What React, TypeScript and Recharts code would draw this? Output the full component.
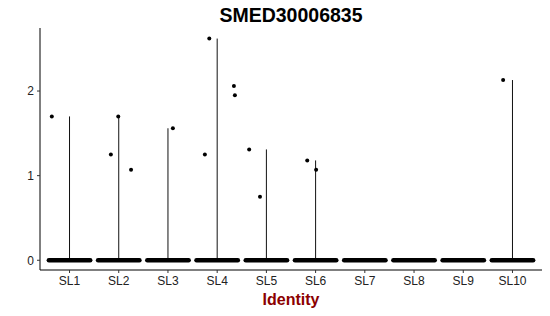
import React from "react";
import { ComposedChart, XAxis, YAxis, Scatter, ReferenceLine } from "recharts";

const categories = ["SL1", "SL2", "SL3", "SL4", "SL5", "SL6", "SL7", "SL8", "SL9", "SL10"];
// upper end of each (very thin) violin
const violinMax = [1.7, 1.7, 1.56, 2.62, 1.31, 1.18, 0, 0, 0, 2.13];
// non-zero cells: jittered x position, expression value
const pointX = [0.64, 1.84, 1.99, 2.25, 3.1, 3.84, 3.75, 4.34, 4.36, 4.65, 4.87, 5.83, 6.01, 9.81];
const pointY = [1.7, 1.25, 1.7, 1.07, 1.56, 2.62, 1.25, 2.06, 1.95, 1.31, 0.75, 1.18, 1.07, 2.13];
const yTicks = [0, 1, 2];
const jitterWidth = 0.42;

const points = pointX.map((x, i) => ({ x, y: pointY[i] }));

const Dot = (props: any) => <circle cx={props.cx} cy={props.cy} r={2} fill="#000" />;

export default function App() {
    return (
        <div style={{ position: "absolute", left: 0, top: 0, width: 550, height: 316, background: "#fff" }}>
            <ComposedChart width={550} height={316} margin={{ top: 28, right: 8, bottom: 0, left: 0 }}>
                <XAxis
                    type="number"
                    dataKey="x"
                    domain={[0.4, 10.6]}
                    allowDataOverflow
                    ticks={categories.map((_, i) => i + 1)}
                    tickFormatter={(v) => categories[v - 1]}
                    interval={0}
                    height={46}
                    stroke="#000"
                    tickSize={3}
                    tickMargin={3}
                    tick={{ fill: "#222", fontSize: 12, fontFamily: "Liberation Sans" }}
                    tickLine={{ stroke: "#333" }}
                />
                <YAxis
                    type="number"
                    dataKey="y"
                    domain={[-0.115, 2.745]}
                    allowDataOverflow
                    ticks={yTicks}
                    width={40}
                    stroke="#000"
                    tickSize={3}
                    tickMargin={3}
                    tick={{ fill: "#222", fontSize: 12, fontFamily: "Liberation Sans" }}
                    tickLine={{ stroke: "#333" }}
                />
                {violinMax.map((m, i) =>
                    m > 0 ? (
                        <ReferenceLine
                            key={`v-${i}`}
                            segment={[{ x: i + 1, y: 0 }, { x: i + 1, y: m }]}
                            stroke="#111"
                            strokeWidth={1}
                            ifOverflow="visible"
                        />
                    ) : null
                )}
                {categories.map((c, i) => (
                    <ReferenceLine
                        key={`z-${c}`}
                        segment={[{ x: i + 1 - jitterWidth, y: 0 }, { x: i + 1 + jitterWidth, y: 0 }]}
                        stroke="#000"
                        strokeWidth={4.5}
                        strokeLinecap="round"
                        ifOverflow="visible"
                    />
                ))}
                <Scatter data={points} shape={Dot} isAnimationActive={false} />
            </ComposedChart>
            <svg width={550} height={316} style={{ position: "absolute", left: 0, top: 0, pointerEvents: "none" }}>
                <text x={291} y={22} textAnchor="middle" fontFamily="Liberation Sans" fontWeight="bold" fontSize={19.5} fill="#000">
                    SMED30006835
                </text>
                <text x={291} y={305} textAnchor="middle" fontFamily="Liberation Sans" fontWeight="bold" fontSize={16} fill="#8B0000">
                    Identity
                </text>
            </svg>
        </div>
    );
}
